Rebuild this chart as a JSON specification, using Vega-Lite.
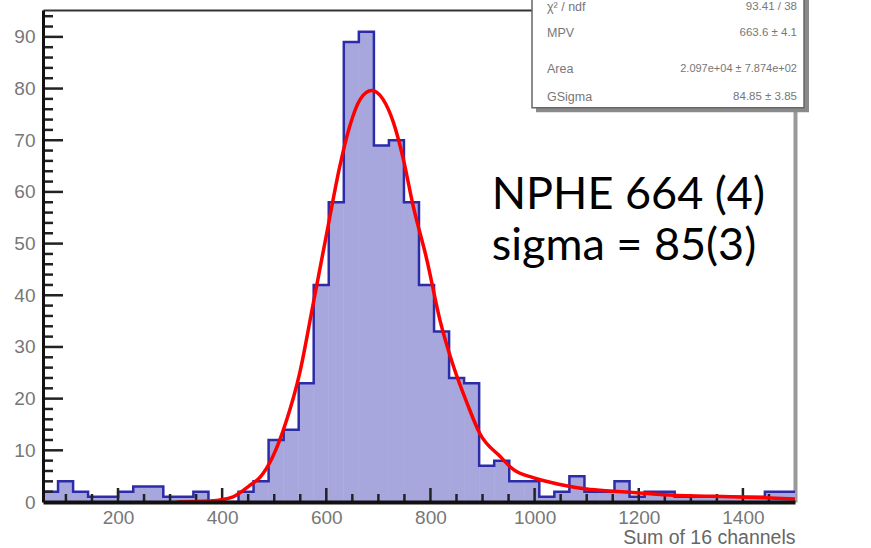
{
  "$schema": "https://vega.github.io/schema/vega-lite/v6.json",
  "width": 752,
  "height": 492,
  "autosize": {"type": "none"},
  "padding": {"left": 43, "top": 10, "right": 76, "bottom": 46},
  "background": "white",
  "config": {"view": {"stroke": null}, "axis": {"grid": false}},
  "datasets": {
    "hist": [
      {"left": 56.0, "right": 84.9, "count": 2},
      {"left": 84.9, "right": 113.8, "count": 4},
      {"left": 113.8, "right": 142.6, "count": 2},
      {"left": 142.6, "right": 171.5, "count": 1},
      {"left": 171.5, "right": 200.4, "count": 1},
      {"left": 200.4, "right": 229.3, "count": 2},
      {"left": 229.3, "right": 258.2, "count": 3},
      {"left": 258.2, "right": 287.0, "count": 3},
      {"left": 287.0, "right": 315.9, "count": 1},
      {"left": 315.9, "right": 344.8, "count": 1},
      {"left": 344.8, "right": 373.7, "count": 2},
      {"left": 373.7, "right": 402.6, "count": 0},
      {"left": 402.6, "right": 431.4, "count": 0},
      {"left": 431.4, "right": 460.3, "count": 2},
      {"left": 460.3, "right": 489.2, "count": 4},
      {"left": 489.2, "right": 518.1, "count": 12},
      {"left": 518.1, "right": 547.0, "count": 14},
      {"left": 547.0, "right": 575.8, "count": 23},
      {"left": 575.8, "right": 604.7, "count": 42},
      {"left": 604.7, "right": 633.6, "count": 58},
      {"left": 633.6, "right": 662.5, "count": 89},
      {"left": 662.5, "right": 691.4, "count": 91},
      {"left": 691.4, "right": 720.2, "count": 69},
      {"left": 720.2, "right": 749.1, "count": 70},
      {"left": 749.1, "right": 778.0, "count": 58},
      {"left": 778.0, "right": 806.9, "count": 42},
      {"left": 806.9, "right": 835.8, "count": 33},
      {"left": 835.8, "right": 864.6, "count": 24},
      {"left": 864.6, "right": 893.5, "count": 23},
      {"left": 893.5, "right": 922.4, "count": 7},
      {"left": 922.4, "right": 951.3, "count": 8},
      {"left": 951.3, "right": 980.2, "count": 4},
      {"left": 980.2, "right": 1009.0, "count": 4},
      {"left": 1009.0, "right": 1037.9, "count": 1},
      {"left": 1037.9, "right": 1066.8, "count": 2},
      {"left": 1066.8, "right": 1095.7, "count": 5},
      {"left": 1095.7, "right": 1124.6, "count": 2},
      {"left": 1124.6, "right": 1153.4, "count": 2},
      {"left": 1153.4, "right": 1182.3, "count": 4},
      {"left": 1182.3, "right": 1211.2, "count": 1},
      {"left": 1211.2, "right": 1240.1, "count": 2},
      {"left": 1240.1, "right": 1269.0, "count": 2},
      {"left": 1269.0, "right": 1297.8, "count": 1},
      {"left": 1297.8, "right": 1326.7, "count": 1},
      {"left": 1326.7, "right": 1355.6, "count": 1},
      {"left": 1355.6, "right": 1384.5, "count": 1},
      {"left": 1384.5, "right": 1413.4, "count": 1},
      {"left": 1413.4, "right": 1442.2, "count": 1},
      {"left": 1442.2, "right": 1471.1, "count": 2},
      {"left": 1471.1, "right": 1500.0, "count": 2}
    ],
    "fit": [
      {"x": 313, "y": 0},
      {"x": 377, "y": 0.2},
      {"x": 421, "y": 1.0},
      {"x": 434, "y": 1.8},
      {"x": 453, "y": 3.2},
      {"x": 473, "y": 4.8},
      {"x": 496, "y": 8.5},
      {"x": 524, "y": 15.9},
      {"x": 549, "y": 25},
      {"x": 574, "y": 37.9},
      {"x": 601, "y": 52.1},
      {"x": 626, "y": 65},
      {"x": 645, "y": 72.7},
      {"x": 665, "y": 77.9},
      {"x": 687, "y": 79.6},
      {"x": 709, "y": 77.9},
      {"x": 729, "y": 73.4},
      {"x": 748, "y": 66.3},
      {"x": 767, "y": 57.2},
      {"x": 793, "y": 46.9},
      {"x": 818, "y": 35.3},
      {"x": 844, "y": 26.3},
      {"x": 870, "y": 19.2},
      {"x": 895, "y": 13.2},
      {"x": 934, "y": 8.8},
      {"x": 959, "y": 6.3},
      {"x": 997, "y": 4.7},
      {"x": 1049, "y": 3.4},
      {"x": 1100, "y": 2.5},
      {"x": 1151, "y": 2.1},
      {"x": 1196, "y": 1.8},
      {"x": 1247, "y": 1.4},
      {"x": 1343, "y": 1.1},
      {"x": 1439, "y": 0.8},
      {"x": 1500, "y": 0.6}
    ],
    "xmajor": [{"v": 200}, {"v": 400}, {"v": 600}, {"v": 800}, {"v": 1000}, {"v": 1200}, {"v": 1400}],
    "xminor": [{"v": 100}, {"v": 150}, {"v": 250}, {"v": 300}, {"v": 350}, {"v": 450}, {"v": 500}, {"v": 550}, {"v": 650}, {"v": 700}, {"v": 750}, {"v": 850}, {"v": 900}, {"v": 950}, {"v": 1050}, {"v": 1100}, {"v": 1150}, {"v": 1250}, {"v": 1300}, {"v": 1350}, {"v": 1450}],
    "ymajor": [{"v": 10}, {"v": 20}, {"v": 30}, {"v": 40}, {"v": 50}, {"v": 60}, {"v": 70}, {"v": 80}, {"v": 90}],
    "yminor": [{"v": 2}, {"v": 4}, {"v": 6}, {"v": 8}, {"v": 12}, {"v": 14}, {"v": 16}, {"v": 18}, {"v": 22}, {"v": 24}, {"v": 26}, {"v": 28}, {"v": 32}, {"v": 34}, {"v": 36}, {"v": 38}, {"v": 42}, {"v": 44}, {"v": 46}, {"v": 48}, {"v": 52}, {"v": 54}, {"v": 56}, {"v": 58}, {"v": 62}, {"v": 64}, {"v": 66}, {"v": 68}, {"v": 72}, {"v": 74}, {"v": 76}, {"v": 78}, {"v": 82}, {"v": 84}, {"v": 86}, {"v": 88}, {"v": 92}, {"v": 94}]
  },
  "layer": [
    {
      "data": {"name": "hist"},
      "mark": {"type": "rect", "color": "#a7a7dd", "stroke": "#a7a7dd", "strokeWidth": 0.6},
      "encoding": {
        "x": {"field": "left", "type": "quantitative", "scale": {"domain": [56, 1500], "nice": false, "zero": false},
          "axis": {"orient": "bottom", "values": [200, 400, 600, 800, 1000, 1200, 1400], "format": "d", "ticks": false, "domainColor": "#111", "domainWidth": 4, "labelFont": "Liberation Sans", "labelFontSize": 19, "labelColor": "#777", "labelPadding": 6, "labelFlush": false, "labelOverlap": false, "title": "Sum of 16 channels", "titleFont": "Liberation Sans", "titleFontSize": 19.5, "titleFontWeight": "normal", "titleColor": "#666", "titleAnchor": "end", "titleBaseline": "alphabetic", "titleY": 41, "grid": false, "zindex": 1}},
        "x2": {"field": "right"},
        "y": {"field": "count", "type": "quantitative", "scale": {"domain": [0, 95.2], "nice": false, "zero": false},
          "axis": {"orient": "left", "values": [0, 10, 20, 30, 40, 50, 60, 70, 80, 90], "ticks": false, "domainColor": "#111", "domainWidth": 3, "labelFont": "Liberation Sans", "labelFontSize": 19, "labelColor": "#777", "labelPadding": 8, "labelFlush": false, "labelOverlap": false, "title": null, "grid": false, "zindex": 1}},
        "y2": {"datum": 0}
      }
    },
    {
      "data": {"name": "hist"},
      "transform": [{"fold": ["left", "right"], "as": ["edge", "xpos"]}],
      "mark": {"type": "line", "color": "#2c2ca8", "strokeWidth": 2.5, "interpolate": "linear"},
      "encoding": {
        "x": {"field": "xpos", "type": "quantitative", "axis": null},
        "y": {"field": "count", "type": "quantitative", "axis": null},
        "order": [{"field": "left", "type": "quantitative"}, {"field": "xpos", "type": "quantitative"}]
      }
    },
    {
      "data": {"name": "xmajor"},
      "mark": {"type": "tick", "color": "#222", "orient": "vertical", "size": 14, "thickness": 2.5, "opacity": 1},
      "encoding": {
        "x": {"field": "v", "type": "quantitative", "axis": null},
        "y": {"datum": 1.35, "type": "quantitative", "axis": null}
      }
    },
    {
      "data": {"name": "xminor"},
      "mark": {"type": "tick", "color": "#222", "orient": "vertical", "size": 8, "thickness": 2.5, "opacity": 1},
      "encoding": {
        "x": {"field": "v", "type": "quantitative", "axis": null},
        "y": {"datum": 0.77, "type": "quantitative", "axis": null}
      }
    },
    {
      "data": {"name": "ymajor"},
      "mark": {"type": "tick", "color": "#222", "orient": "horizontal", "size": 20, "thickness": 2.5, "opacity": 1},
      "encoding": {
        "y": {"field": "v", "type": "quantitative", "axis": null},
        "x": {"datum": 75.2, "type": "quantitative", "axis": null}
      }
    },
    {
      "data": {"name": "yminor"},
      "mark": {"type": "tick", "color": "#222", "orient": "horizontal", "size": 10, "thickness": 2.5, "opacity": 1},
      "encoding": {
        "y": {"field": "v", "type": "quantitative", "axis": null},
        "x": {"datum": 65.6, "type": "quantitative", "axis": null}
      }
    },
    {
      "data": {"name": "fit"},
      "mark": {"type": "line", "color": "#ff0000", "strokeWidth": 3.5, "interpolate": "monotone"},
      "encoding": {
        "x": {"field": "x", "type": "quantitative", "scale": {"domain": [56, 1500], "nice": false, "zero": false},
          "axis": {"orient": "top", "domainColor": "#333", "domainWidth": 2, "ticks": false, "labels": false, "title": null, "grid": false}},
        "y": {"field": "y", "type": "quantitative", "scale": {"domain": [0, 95.2], "nice": false, "zero": false},
          "axis": {"orient": "right", "domainColor": "#999", "domainWidth": 4, "ticks": false, "labels": false, "title": null, "grid": false}}
      }
    },
    {
      "data": {"values": [{}]},
      "mark": {"type": "text", "text": "NPHE 664 (4)", "font": "Lato", "fontSize": 45, "align": "left", "baseline": "alphabetic", "color": "#000"},
      "encoding": {
        "x": {"datum": 917.6, "type": "quantitative", "axis": null},
        "y": {"datum": 56.6, "type": "quantitative", "axis": null}
      }
    },
    {
      "data": {"values": [{}]},
      "mark": {"type": "text", "text": "sigma = 85(3)", "font": "Lato", "fontSize": 45, "align": "left", "baseline": "alphabetic", "color": "#000"},
      "encoding": {
        "x": {"datum": 917.6, "type": "quantitative", "axis": null},
        "y": {"datum": 46.9, "type": "quantitative", "axis": null}
      }
    },
    {
      "data": {"values": [{}]},
      "mark": {"type": "rect", "color": "#8a8a8a"},
      "encoding": {
        "x": {"datum": 1002.7, "type": "quantitative", "axis": null},
        "x2": {"datum": 1526.9},
        "y": {"datum": 75.4, "type": "quantitative", "axis": null},
        "y2": {"datum": 99}
      }
    },
    {
      "data": {"values": [{}]},
      "mark": {"type": "rect", "fill": "#ffffff", "stroke": "#666", "strokeWidth": 1.5},
      "encoding": {
        "x": {"datum": 995, "type": "quantitative", "axis": null},
        "x2": {"datum": 1517.3},
        "y": {"datum": 76.3, "type": "quantitative", "axis": null},
        "y2": {"datum": 99}
      }
    },
    {
      "data": {"values": [{}]},
      "mark": {"type": "text", "text": "χ² / ndf", "font": "Liberation Sans", "fontSize": 12.5, "align": "left", "baseline": "middle", "color": "#777"},
      "encoding": {"x": {"datum": 1023.8, "type": "quantitative", "axis": null}, "y": {"datum": 95.7, "type": "quantitative", "axis": null}}
    },
    {
      "data": {"values": [{}]},
      "mark": {"type": "text", "text": "93.41 / 38", "font": "Liberation Sans", "fontSize": 11.5, "align": "right", "baseline": "middle", "color": "#777"},
      "encoding": {"x": {"datum": 1503.8, "type": "quantitative", "axis": null}, "y": {"datum": 95.7, "type": "quantitative", "axis": null}}
    },
    {
      "data": {"values": [{}]},
      "mark": {"type": "text", "text": "MPV", "font": "Liberation Sans", "fontSize": 12.5, "align": "left", "baseline": "middle", "color": "#777"},
      "encoding": {"x": {"datum": 1023.8, "type": "quantitative", "axis": null}, "y": {"datum": 90.8, "type": "quantitative", "axis": null}}
    },
    {
      "data": {"values": [{}]},
      "mark": {"type": "text", "text": "663.6  ± 4.1", "font": "Liberation Sans", "fontSize": 11.5, "align": "right", "baseline": "middle", "color": "#777"},
      "encoding": {"x": {"datum": 1503.8, "type": "quantitative", "axis": null}, "y": {"datum": 90.8, "type": "quantitative", "axis": null}}
    },
    {
      "data": {"values": [{}]},
      "mark": {"type": "text", "text": "Area", "font": "Liberation Sans", "fontSize": 12.5, "align": "left", "baseline": "middle", "color": "#777"},
      "encoding": {"x": {"datum": 1023.8, "type": "quantitative", "axis": null}, "y": {"datum": 83.7, "type": "quantitative", "axis": null}}
    },
    {
      "data": {"values": [{}]},
      "mark": {"type": "text", "text": "2.097e+04  ± 7.874e+02", "font": "Liberation Sans", "fontSize": 11, "align": "right", "baseline": "middle", "color": "#777"},
      "encoding": {"x": {"datum": 1503.8, "type": "quantitative", "axis": null}, "y": {"datum": 83.7, "type": "quantitative", "axis": null}}
    },
    {
      "data": {"values": [{}]},
      "mark": {"type": "text", "text": "GSigma", "font": "Liberation Sans", "fontSize": 12.5, "align": "left", "baseline": "middle", "color": "#777"},
      "encoding": {"x": {"datum": 1023.8, "type": "quantitative", "axis": null}, "y": {"datum": 78.4, "type": "quantitative", "axis": null}}
    },
    {
      "data": {"values": [{}]},
      "mark": {"type": "text", "text": "84.85  ± 3.85", "font": "Liberation Sans", "fontSize": 11.5, "align": "right", "baseline": "middle", "color": "#777"},
      "encoding": {"x": {"datum": 1503.8, "type": "quantitative", "axis": null}, "y": {"datum": 78.4, "type": "quantitative", "axis": null}}
    }
  ],
  "resolve": {"axis": {"x": "independent", "y": "independent"}}
}
